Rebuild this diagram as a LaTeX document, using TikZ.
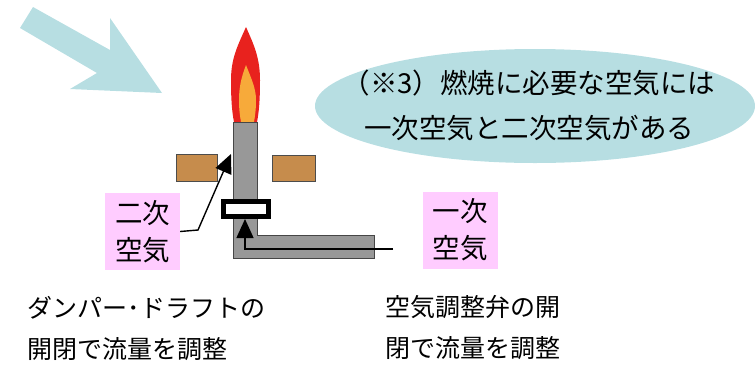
\documentclass[tikz,border=0pt]{standalone}
\usepackage{fontspec}
\setmainfont{Noto Sans CJK JP}
\usetikzlibrary{arrows.meta,shapes.geometric}
\definecolor{aircyan}{RGB}{183,222,226}
\definecolor{labelpink}{RGB}{255,204,255}
\definecolor{flamered}{RGB}{232,34,30}
\definecolor{flameorange}{RGB}{247,170,58}
\definecolor{pipegray}{RGB}{152,152,152}
\definecolor{pipeedge}{RGB}{70,70,70}
\definecolor{brick}{RGB}{198,140,76}
\tikzset{
  bigtext/.style={font=\fontsize{25}{41}\selectfont, text=black},
  notetext/.style={font=\fontsize{27.5}{45}\selectfont, text=black},
  tag/.style={fill=labelpink, align=center, inner sep=0pt,
    minimum width=75pt, minimum height=77pt,
    font=\fontsize{27.5}{37}\selectfont},
  pipe/.style={fill=pipegray, draw=pipeedge, line width=0.8pt},
  block/.style={fill=brick, draw=black!70, line width=0.6pt},
  airline/.style={line width=1.4pt, -{Triangle[length=19pt,width=17pt]}},
}
\begin{document}
\begin{tikzpicture}[x=1pt,y=-1pt]
\useasboundingbox (0,0) rectangle (755,365);

% incoming air
\fill[aircyan] (20,28) -- (33,7) -- (110,50) -- (110,18) -- (162,93)
  -- (70,89) -- (97,73) -- cycle;

% note bubble
\node[ellipse, fill=aircyan, minimum width=440pt, minimum height=114pt,
  inner sep=0pt] (note) at (535,106) {};
\node[notetext, align=center] (notetext) at (529,105)
  {（※3）燃焼に必要な空気には\\一次空気と二次空気がある};

% flame
\fill[flamered] (246,27) .. controls (238,45) and (231,58) .. (231,80)
  .. controls (231,100) and (232,112) .. (234,122) -- (257,122)
  .. controls (259,112) and (260,100) .. (260,80)
  .. controls (260,58) and (254,45) .. (246,27) -- cycle;
\fill[flameorange] (246,65) .. controls (241,78) and (239,88) .. (239,100)
  .. controls (239,110) and (240,116) .. (241,122) -- (254,122)
  .. controls (255,116) and (256,110) .. (256,100)
  .. controls (256,88) and (251,78) .. (246,65) -- cycle;

% damper plates
\node[block, minimum width=41pt, minimum height=27pt, inner sep=0pt] (damperL) at (196.5,167.5) {};
\node[block, minimum width=43pt, minimum height=26pt, inner sep=0pt] (damperR) at (293.5,168.5) {};

% burner tube
\node[pipe, minimum width=24pt, minimum height=78pt, inner sep=0pt] (tube) at (245,161) {};
\draw[pipe] (233,219) -- (233,258) -- (374,258) -- (374,235) -- (257,235) -- (257,219);

% air adjusting valve
\node[draw=black, fill=white, line width=4.5pt, minimum width=45pt,
  minimum height=15pt, inner sep=0pt] (valve) at (246,209) {};

% labels
\node[tag] (second) at (142.5,231.5) {二次\\空気};
\node[tag] (first) at (460,230) {一次\\空気};

% secondary air path
\coordinate (sbend) at (198,230);
\coordinate (stip) at (231,154);
\draw[airline] (second.east) -- (sbend) -- (stip);

% primary air path
\coordinate (pstart) at (393,249);
\coordinate (pbend) at (245,249);
\coordinate (ptip) at (245,219);
\draw[airline] (pstart) -- (pbend) -- (ptip);

% explanations
\node[bigtext, anchor=west, align=left] (damper) at (24,328)
  {ダンパー･ドラフトの\\開閉で流量を調整};
\node[bigtext, anchor=west, align=left] (valvetxt) at (382,328)
  {空気調整弁の開\\閉で流量を調整};
\end{tikzpicture}
\end{document}
